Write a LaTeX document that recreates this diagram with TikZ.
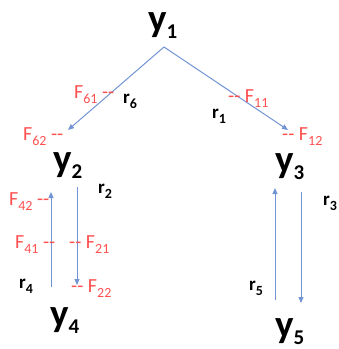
\documentclass[tikz,border=0pt]{standalone}
\usepackage{fontspec}
\setmainfont{Carlito}
\usetikzlibrary{arrows.meta}
\definecolor{flowblue}{RGB}{114,147,212}
\definecolor{fluxred}{RGB}{255,80,80}
\newcommand{\ysub}[1]{\raisebox{-7pt}{\fontsize{21}{21}\selectfont #1}}
\newcommand{\lsub}[1]{\raisebox{-5pt}{\fontsize{14}{14}\selectfont #1}}
\begin{document}
\begin{tikzpicture}[
  x=1pt,y=-1pt,
  >={Triangle[length=6pt,width=5pt]},
  state/.style={anchor=base west,inner sep=0pt,text height=18pt,
    font=\fontsize{39}{40}\selectfont\bfseries},
  flux/.style={anchor=base west,inner sep=0pt,text=fluxred,font=\fontsize{20}{22}\selectfont},
  rate/.style={anchor=base west,inner sep=0pt,font=\fontsize{19}{21}\selectfont\bfseries},
  flow/.style={->,draw=flowblue,line width=1pt}
]
  \useasboundingbox (0,0) rectangle (339,349);
  % states
  \node[state] (y1) at (148,31) {y\ysub{1}};
  \node[state] (y2) at (53,171) {y\ysub{2}};
  \node[state] (y3) at (275,172) {y\ysub{3}};
  \node[state] (y4) at (50,326) {y\ysub{4}};
  \node[state] (y5) at (275,337) {y\ysub{5}};
  % arrow ends
  \coordinate (apex) at (164,47);
  \coordinate (tip2) at (68,130);
  \coordinate (tip3) at (288,130);
  \coordinate (d2top) at (77,187);
  \coordinate (d2bot) at (77,285);
  \coordinate (u4bot) at (51,287);
  \coordinate (u4top) at (51,192);
  \coordinate (d3top) at (301,192);
  \coordinate (d3bot) at (301,303);
  \coordinate (u5bot) at (275,300);
  \coordinate (u5top) at (275,188);
  % flows
  \draw[flow] (apex) -- (tip2);
  \draw[flow] (apex) -- (tip3);
  \draw[flow] (d2top) -- (d2bot);
  \draw[flow] (u4bot) -- (u4top);
  \draw[flow] (d3top) -- (d3bot);
  \draw[flow] (u5bot) -- (u5top);
  % rates
  \node[rate] (r6) at (123,103) {r\lsub{6}};
  \node[rate] (r1) at (212,118) {r\lsub{1}};
  \node[rate] (r2) at (98,193) {r\lsub{2}};
  \node[rate] (r4) at (19,288) {r\lsub{4}};
  \node[rate] (r3) at (323,205) {r\lsub{3}};
  \node[rate] (r5) at (249,290) {r\lsub{5}};
  % fluxes
  \node[flux] (f62) at (23,140) {F\lsub{62} -{}-};
  \node[flux] (f61) at (74,98) {F\lsub{61} -{}-};
  \node[flux] (f11) at (228,102) {-{}- F\lsub{11}};
  \node[flux] (f12) at (282,140) {-{}- F\lsub{12}};
  \node[flux] (f42) at (9,205) {F\lsub{42} -{}-};
  \node[flux] (f41) at (15,248) {F\lsub{41} -{}-};
  \node[flux] (f21) at (69,248) {-{}- F\lsub{21}};
  \node[flux] (f22) at (71,292) {-{}- F\lsub{22}};
\end{tikzpicture}
\end{document}
